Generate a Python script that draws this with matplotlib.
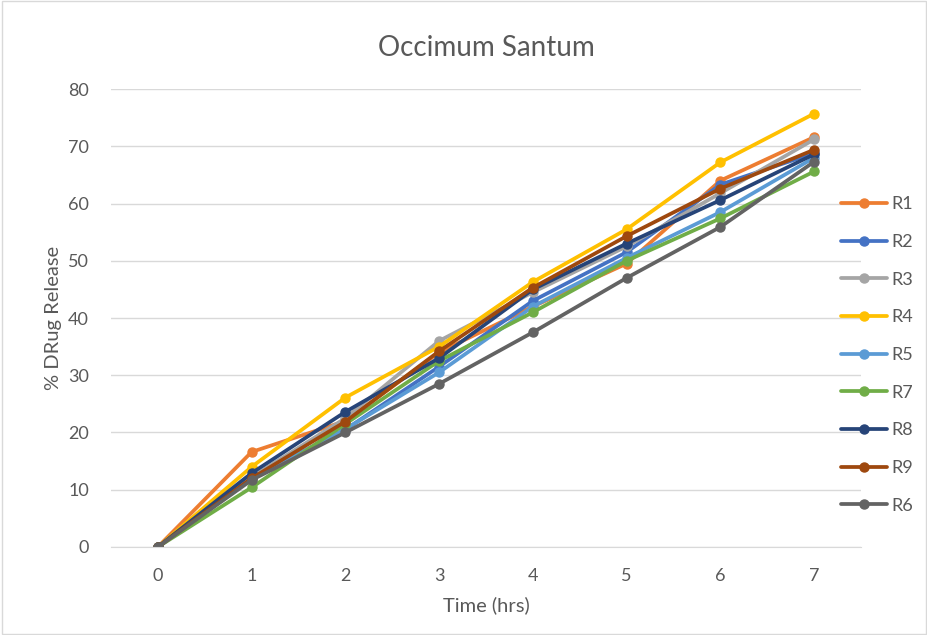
import matplotlib
matplotlib.use("Agg")
import matplotlib.pyplot as plt
from matplotlib.patches import Rectangle

hours = [0, 1, 2, 3, 4, 5, 6, 7]
series_names = ["R1", "R2", "R3", "R4", "R5", "R7", "R8", "R9", "R6"]
R1 = [0, 16.6, 22.0, 34.0, 42.0, 49.5, 64.0, 71.6]
R2 = [0, 12.0, 20.5, 31.5, 43.0, 51.5, 63.3, 68.8]
R3 = [0, 12.2, 22.5, 36.0, 44.5, 52.5, 61.8, 71.2]
R4 = [0, 14.0, 26.1, 35.0, 46.3, 55.5, 67.2, 75.7]
R5 = [0, 12.0, 20.6, 30.5, 42.0, 50.5, 58.5, 68.0]
R7 = [0, 10.4, 21.5, 32.5, 41.0, 50.0, 57.4, 65.6]
R8 = [0, 12.9, 23.6, 33.0, 45.0, 53.0, 60.6, 68.6]
R9 = [0, 12.0, 21.9, 34.2, 45.3, 54.3, 62.6, 69.4]
R6 = [0, 11.7, 20.0, 28.5, 37.5, 47.0, 55.9, 67.3]
series_values = [R1, R2, R3, R4, R5, R7, R8, R9, R6]
colors = ["#ED7D31", "#4472C4", "#A5A5A5", "#FFC000", "#5B9BD5",
          "#70AD47", "#264478", "#9E480E", "#636363"]
y_ticks = [0, 10, 20, 30, 40, 50, 60, 70, 80]

plt.rcParams['font.family'] = ['Lato', 'DejaVu Sans']
fig = plt.figure(figsize=(9.28, 6.35), dpi=100)
fig.patches.append(Rectangle((0.002, 0.002), 0.996, 0.996, transform=fig.transFigure,
                             fill=False, edgecolor="#D9D9D9", linewidth=1))
ax = fig.add_axes([0.1196, 0.1386, 0.8082, 0.7212])

for name, vals, c in zip(series_names, series_values, colors):
    ax.plot(hours, vals, color=c, linewidth=2.7, marker='o', markersize=6.5,
            label=name, solid_capstyle='round', solid_joinstyle='round')

ax.set_xlim(-0.5, 7.5)
ax.set_ylim(0, 80)
ax.set_yticks(y_ticks)
ax.set_xticks(hours)
ax.grid(axis='y', color='#D9D9D9', linewidth=1)
ax.set_axisbelow(True)
for s in ['top', 'right', 'left']:
    ax.spines[s].set_visible(False)
ax.spines['bottom'].set_color('#D9D9D9')
ax.tick_params(axis='both', length=0, labelsize=13, colors='#595959')
ax.xaxis.set_tick_params(pad=15)
ax.yaxis.set_tick_params(pad=16)

ax.set_title("Occimum Santum", fontsize=20, color='#595959', pad=24)
ax.set_xlabel("Time (hrs)", fontsize=14.5, color='#595959', labelpad=9)
ax.set_ylabel("% DRug Release", fontsize=14.5, color='#595959', labelpad=4)

leg = fig.legend(*ax.get_legend_handles_labels(), loc='upper left',
                 bbox_to_anchor=(0.906, 0.691), frameon=False,
                 fontsize=13, labelcolor='#595959', handlelength=2.55,
                 labelspacing=1.2, handletextpad=0.26, borderpad=0,
                 borderaxespad=0)

fig.savefig("out.png", dpi=100)
